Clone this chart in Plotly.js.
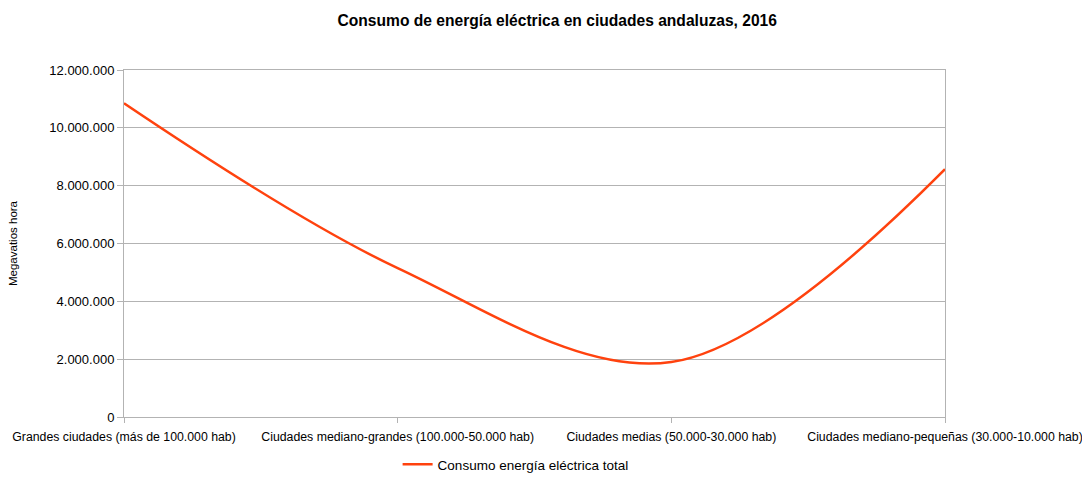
<!DOCTYPE html>
<html>
<head>
<meta charset="utf-8">
<script src="https://cdn.plot.ly/plotly-3.0.1.min.js"></script>
<style>html,body{margin:0;padding:0;background:#fff;}#chart{width:1082px;height:480px;}</style>
</head>
<body>
<div id="chart"></div>
<script>
const categories = [
  "Grandes ciudades (más de 100.000 hab)",
  "Ciudades mediano-grandes (100.000-50.000 hab)",
  "Ciudades medias (50.000-30.000 hab)",
  "Ciudades mediano-pequeñas (30.000-10.000 hab)"
];
const consumoTotal = [10850000, 5150000, 1900000, 8570000];
const seriesName = "Consumo energía eléctrica total";
const yTicks = [0, 2000000, 4000000, 6000000, 8000000, 10000000, 12000000];

const font = "Liberation Sans, Arial, sans-serif";

const trace = {
  x: categories,
  y: consumoTotal,
  type: "scatter",
  mode: "lines",
  name: seriesName,
  line: {color: "#ff420e", width: 2.5, shape: "spline", smoothing: 1.0}
};

const layout = {
  width: 1082,
  height: 480,
  margin: {l: 124, r: 137, t: 70, b: 63},
  paper_bgcolor: "#ffffff",
  plot_bgcolor: "#ffffff",
  separators: ",.",
  font: {family: font, size: 12, color: "#000"},
  title: {
    text: "Consumo de energía eléctrica en ciudades andaluzas, 2016",
    font: {family: font, size: 15.6, color: "#000", weight: "bold"},
    x: 0.515, xref: "container", xanchor: "center",
    y: 0.958, yref: "container", yanchor: "middle"
  },
  xaxis: {
    type: "category",
    range: [0, 3],
    showgrid: false,
    showline: true,
    linecolor: "#b3b3b3",
    linewidth: 1,
    mirror: true,
    ticks: "outside",
    ticklen: 5,
    tickcolor: "#b3b3b3",
    ticklabelstandoff: 3,
    tickfont: {family: font, size: 12.3, color: "#000"},
    zeroline: false,
    automargin: false,
    fixedrange: true
  },
  yaxis: {
    range: [0, 12000000],
    tickvals: yTicks,
    tickformat: ",d",
    showgrid: true,
    gridcolor: "#b3b3b3",
    gridwidth: 1,
    showline: true,
    linecolor: "#b3b3b3",
    linewidth: 1,
    mirror: true,
    ticks: "outside",
    ticklen: 6,
    tickcolor: "#b3b3b3",
    tickfont: {family: font, size: 13, color: "#000"},
    zeroline: false,
    automargin: false,
    title: {text: "Megavatios hora", font: {family: font, size: 11.5, color: "#000"}, standoff: 29},
    fixedrange: true
  },
  showlegend: true,
  legend: {
    orientation: "h",
    x: 0.477, xanchor: "center",
    yref: "container",
    y: -0.012, yanchor: "bottom",
    font: {family: font, size: 13.5, color: "#000"},
    bgcolor: "rgba(0,0,0,0)"
  }
};

Plotly.newPlot("chart", [trace], layout, {displayModeBar: false, staticPlot: true});
</script>
</body>
</html>
